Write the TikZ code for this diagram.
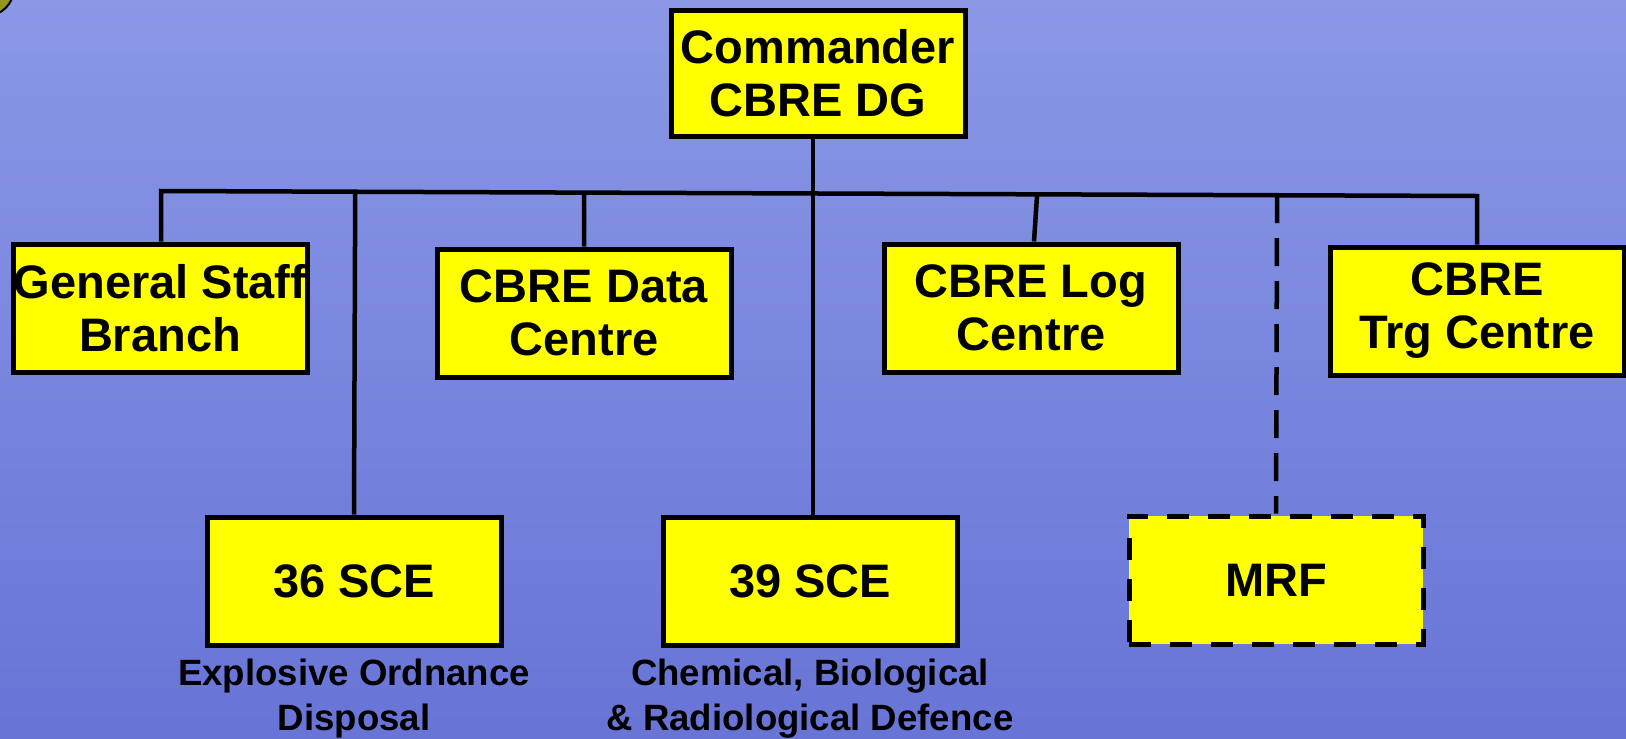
\documentclass[tikz,border=0pt]{standalone}
\usepackage{fontspec}
\setmainfont{Liberation Sans}
\usepackage{xcolor}
\usetikzlibrary{calc}

\definecolor{seatop}{RGB}{138,152,230}
\definecolor{seabot}{RGB}{104,116,214}
\definecolor{unityellow}{RGB}{255,255,0}
\definecolor{badge}{RGB}{150,150,30}

\begin{document}
\begin{tikzpicture}[x=1pt, y=-1pt,
  unit/.style={draw, line width=5pt, fill=unityellow, minimum width=294pt, minimum height=128pt, inner sep=0pt, align=center, font=\fontsize{47}{53}\selectfont\bfseries},
  ghost/.style={unit, dash pattern=on 22pt off 19pt},
  remark/.style={align=center, inner sep=0pt, font=\fontsize{36.6}{45}\selectfont\bfseries},
  wire/.style={line width=4.5pt},
]
\useasboundingbox (0,0) rectangle (1626,739);
\shade[top color=seatop, bottom color=seabot] (0,0) rectangle (1626,739);
\draw[line width=2pt, fill=badge] (-14,-12) circle (28pt);

\node[unit, minimum height=126pt] (cmd) at (818,73) {Commander\\CBRE DG};
\node[unit] (gsb) at (160,308) {General Staff\\Branch};
\node[unit] (data) at (584,313) {CBRE Data\\Centre};
\node[unit] (log) at (1031,308) {CBRE Log\\Centre};
\node[unit] (trg) at (1477,311) {CBRE\\Trg Centre};
\node[unit] (sce36) at (354,581) {36 SCE};
\node[unit] (sce39) at (810,581) {39 SCE};
\node[ghost] (mrf) at (1276,580) {MRF};
\node[remark] (eod) at (354,699) {Explosive Ordnance\\Disposal};
\node[remark] (cbrd) at (810,699) {Chemical, Biological\\\& Radiological Defence};

\coordinate (busw) at (161,191);
\coordinate (buse) at (1477,196);
\draw[wire] (busw |- gsb.north) -- (busw) -- (buse) -- (buse |- trg.north);
\draw[wire] ([xshift=-5pt]cmd.south) -- ([xshift=3pt]sce39.north);
\draw[wire] ($(busw)!(sce36.north)!(buse)$) -- (sce36.north);
\draw[wire] ($(busw)!(data.north)!(buse)$) -- (data.north);
\draw[wire] ($(busw)!(log.north)!(buse) + (6,0)$) -- ([xshift=3pt]log.north);
\draw[wire, dash pattern=on 28pt off 15pt] ($(busw)!(mrf.north)!(buse)$) -- (mrf.north);
\end{tikzpicture}
\end{document}
